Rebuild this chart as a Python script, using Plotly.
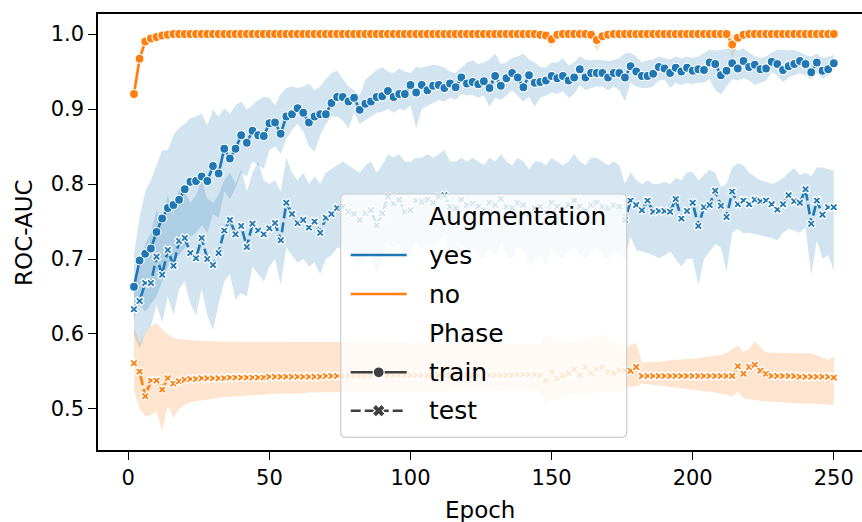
import plotly.graph_objects as go

# ---------------------------------------------------------------------------
# ROC-AUC per epoch: mean over runs with bootstrapped 95% interval
# ---------------------------------------------------------------------------
EPOCHS = list(range(2, 251, 2))

# Augmentation = yes, Phase = train
yes_train = [
    .663, .698, .707, .714, .736, .754, .768, .772, .779, .793,
    .803, .804, .810, .804, .824, .814, .847, .834, .847, .865,
    .855, .871, .865, .864, .881, .882, .867, .890, .893, .901,
    .895, .882, .890, .893, .893, .908, .916, .916, .910, .915,
    .899, .907, .910, .916, .917, .924, .916, .920, .920, .932,
    .922, .932, .925, .931, .932, .928, .934, .929, .942, .934,
    .936, .933, .937, .928, .944, .931, .941, .948, .942, .929,
    .945, .935, .936, .938, .944, .941, .944, .938, .942, .953,
    .942, .948, .948, .948, .942, .948, .948, .942, .957, .950,
    .944, .944, .947, .956, .954, .948, .955, .950, .955, .951,
    .953, .952, .962, .960, .945, .951, .961, .954, .964, .956,
    .959, .953, .954, .963, .960, .952, .957, .960, .964, .960,
    .949, .962, .951, .953, .961]
yes_train_lo = [
    .620, .640, .630, .640, .650, .670, .690, .700, .705, .715,
    .730, .735, .745, .735, .760, .755, .790, .780, .795, .815,
    .810, .830, .825, .820, .845, .850, .840, .860, .872, .880,
    .870, .850, .843, .865, .880, .890, .890, .885, .874, .895,
    .880, .885, .890, .895, .896, .900, .895, .900, .898, .905,
    .874, .900, .903, .908, .912, .910, .915, .912, .920, .918,
    .919, .915, .918, .903, .915, .912, .918, .925, .918, .910,
    .916, .903, .915, .918, .922, .920, .924, .915, .920, .932,
    .925, .928, .930, .930, .925, .930, .925, .910, .935, .930,
    .928, .928, .930, .938, .939, .928, .935, .932, .935, .933,
    .935, .935, .940, .925, .919, .930, .940, .938, .941, .938,
    .932, .935, .938, .949, .945, .936, .942, .945, .948, .945,
    .939, .948, .940, .945, .952]
yes_train_hi = [
    .705, .756, .790, .805, .825, .845, .845, .865, .875, .880,
    .888, .890, .894, .878, .899, .890, .901, .894, .905, .910,
    .899, .905, .912, .916, .915, .905, .920, .928, .930, .928,
    .930, .934, .925, .930, .940, .948, .951, .940, .930, .925,
    .918, .939, .945, .952, .956, .950, .948, .954, .950, .948,
    .956, .955, .957, .959, .958, .955, .950, .948, .955, .962,
    .965, .960, .962, .966, .974, .960, .962, .968, .970, .974,
    .966, .962, .956, .955, .962, .962, .968, .958, .962, .970,
    .966, .965, .966, .965, .964, .965, .968, .974, .975, .970,
    .962, .965, .966, .970, .968, .966, .970, .968, .970, .968,
    .970, .974, .979, .978, .979, .980, .983, .978, .981, .975,
    .970, .968, .970, .975, .979, .979, .978, .979, .975, .972,
    .970, .974, .968, .970, .972]

# Augmentation = yes, Phase = test
yes_test = [
    .633, .644, .668, .668, .703, .679, .712, .691, .724, .728,
    .708, .701, .728, .700, .692, .708, .738, .752, .733, .744,
    .716, .747, .738, .733, .741, .748, .725, .775, .760, .748,
    .752, .742, .750, .735, .755, .760, .768, .770, .763, .760,
    .752, .761, .765, .745, .761, .783, .774, .779, .763, .765,
    .778, .776, .779, .775, .783, .785, .770, .768, .779, .772,
    .774, .770, .765, .775, .772, .780, .770, .768, .775, .772,
    .760, .768, .770, .762, .775, .770, .765, .772, .778, .770,
    .765, .772, .775, .770, .768, .772, .770, .752, .778, .772,
    .765, .778, .763, .764, .764, .763, .780, .754, .764, .775,
    .744, .769, .772, .791, .771, .756, .790, .773, .778, .773,
    .779, .777, .778, .773, .766, .773, .785, .777, .775, .793,
    .747, .778, .759, .769, .769]
yes_test_lo = [
    .600, .580, .600, .610, .640, .615, .650, .625, .660, .670,
    .640, .625, .660, .625, .605, .640, .670, .680, .645, .655,
    .650, .690, .680, .670, .690, .700, .665, .715, .705, .695,
    .700, .690, .695, .680, .700, .705, .715, .715, .705, .700,
    .690, .700, .710, .680, .700, .720, .715, .720, .700, .705,
    .720, .715, .720, .715, .725, .730, .705, .700, .720, .710,
    .715, .705, .700, .715, .705, .720, .705, .700, .715, .710,
    .690, .700, .705, .690, .715, .705, .700, .710, .715, .705,
    .700, .710, .715, .705, .700, .710, .705, .700, .730, .712,
    .710, .708, .705, .701, .705, .710, .700, .690, .700, .700,
    .665, .700, .710, .720, .715, .683, .735, .740, .734, .735,
    .734, .732, .730, .728, .725, .735, .740, .738, .735, .742,
    .679, .725, .700, .705, .685]
yes_test_hi = [
    .665, .700, .720, .735, .765, .750, .785, .760, .795, .790,
    .775, .785, .805, .780, .775, .785, .805, .815, .800, .820,
    .790, .815, .830, .805, .800, .805, .790, .835, .815, .805,
    .815, .800, .810, .800, .815, .820, .825, .830, .825, .820,
    .815, .825, .830, .815, .825, .840, .835, .840, .830, .830,
    .835, .835, .840, .835, .840, .845, .830, .830, .835, .830,
    .835, .830, .825, .835, .830, .840, .830, .825, .835, .830,
    .820, .830, .830, .825, .835, .830, .825, .830, .840, .830,
    .825, .835, .835, .830, .825, .830, .825, .800, .816, .805,
    .800, .805, .800, .800, .803, .800, .808, .805, .816, .816,
    .805, .812, .819, .815, .796, .800, .822, .828, .825, .815,
    .810, .805, .803, .800, .803, .808, .815, .821, .812, .815,
    .810, .822, .822, .820, .818]

# Augmentation = no, Phase = train
no_train = [
    .920, .967, .990, .994, .996, .998, .999] + [1.000] * 65 + [
    .999, .998, .993, .999] + [1.000] * 5 + [.999, .992, .997, .999] + [1.000] * 21 + [
    .986, .995, .999] + [1.000] * 16
no_train_lo = [
    .905, .955, .985, .990, .993, .996, .998] + [1.000] * 65 + [
    .998, .996, .982, .997] + [1.000] * 5 + [.998, .976, .990, .998] + [1.000] * 21 + [
    .968, .990, .998] + [1.000] * 16
no_train_hi = [
    .934, .978, .995, .998, .999, 1.000, 1.000] + [1.000] * 65 + [
    1.000, 1.000, 1.000, 1.000] + [1.000] * 5 + [1.000, 1.000, 1.000, 1.000] + [1.000] * 21 + [
    .999, 1.000, 1.000] + [1.000] * 16

# Augmentation = no, Phase = test
no_test = [
    .561, .550, .517, .538, .538, .526, .541, .534, .537, .539,
    .540, .540, .541, .541, .541, .541, .541, .542, .542, .542,
    .542, .542, .542, .542, .543, .543, .543, .543, .543, .543,
    .543, .543, .543, .543, .544, .544, .544, .544, .544, .544,
    .544, .544, .544, .545, .545, .545, .545, .545, .545, .545,
    .545, .545, .545, .545, .545, .545, .545, .545, .545, .545,
    .545, .545, .545, .545, .545, .545, .545, .545, .546, .546,
    .546, .546, .545, .538, .550, .541, .545, .548, .553, .545,
    .556, .548, .553, .556, .550, .548, .552, .551, .551, .556,
    .544, .544, .544, .544, .544, .544, .544, .544, .544, .544,
    .544, .544, .544, .544, .544, .544, .544, .557, .547, .556,
    .559, .551, .547, .544, .544, .544, .544, .544, .543, .543,
    .543, .543, .543, .543, .542]
no_test_lo = [
    .525, .500, .490, .492, .497, .470, .505, .488, .500, .505,
    .509, .511, .512, .513, .514, .515, .516, .516, .517, .517,
    .518, .518, .519, .519, .520, .520, .520, .521, .521, .521,
    .521, .522, .522, .522, .522, .522, .523, .523, .523, .523,
    .523, .523, .523, .524, .524, .524, .524, .524, .524, .524,
    .524, .524, .525, .525, .525, .525, .525, .525, .525, .525,
    .525, .525, .525, .525, .525, .525, .525, .525, .525, .525,
    .525, .525, .524, .505, .515, .512, .515, .520, .522, .518,
    .522, .520, .522, .525, .523, .522, .524, .528, .530, .530,
    .534, .533, .532, .532, .531, .530, .529, .528, .527, .526,
    .525, .524, .523, .522, .521, .519, .516, .523, .514, .513,
    .512, .511, .510, .510, .509, .509, .508, .508, .508, .507,
    .507, .507, .506, .506, .505]
no_test_hi = [
    .610, .588, .600, .610, .615, .606, .600, .595, .593, .592,
    .592, .591, .591, .590, .590, .590, .590, .590, .590, .590,
    .590, .590, .590, .590, .590, .590, .590, .590, .590, .590,
    .590, .590, .590, .589, .589, .589, .589, .589, .589, .589,
    .589, .589, .589, .589, .589, .589, .589, .589, .588, .588,
    .588, .588, .588, .588, .588, .588, .588, .588, .588, .588,
    .588, .588, .588, .588, .588, .588, .588, .588, .588, .587,
    .587, .587, .587, .600, .595, .590, .588, .590, .592, .590,
    .595, .592, .598, .600, .595, .590, .585, .580, .585, .588,
    .562, .562, .563, .563, .564, .565, .565, .566, .567, .567,
    .568, .569, .570, .571, .572, .575, .580, .585, .576, .580,
    .590, .583, .575, .575, .575, .575, .575, .575, .575, .575,
    .574, .572, .568, .566, .570]

BLUE = "#1f77b4"
ORANGE = "#ff7f0e"
BLUE_BAND = "rgba(31,119,180,0.2)"
ORANGE_BAND = "rgba(255,127,14,0.2)"
FONT = "DejaVu Sans"

series = [
    # (mean, lower, upper, line colour, band colour, phase)
    (yes_train, yes_train_lo, yes_train_hi, BLUE, BLUE_BAND, "train"),
    (yes_test, yes_test_lo, yes_test_hi, BLUE, BLUE_BAND, "test"),
    (no_train, no_train_lo, no_train_hi, ORANGE, ORANGE_BAND, "train"),
    (no_test, no_test_lo, no_test_hi, ORANGE, ORANGE_BAND, "test"),
]

fig = go.Figure()

# confidence bands first, so every line sits on top of them
for mean, lo, hi, col, band, phase in series:
    fig.add_trace(go.Scatter(
        x=EPOCHS + EPOCHS[::-1], y=hi + lo[::-1],
        fill="toself", fillcolor=band, line=dict(width=0),
        mode="lines", hoverinfo="skip", showlegend=False))

for mean, lo, hi, col, band, phase in series:
    is_train = phase == "train"
    fig.add_trace(go.Scatter(
        x=EPOCHS, y=mean, mode="lines+markers", showlegend=False,
        line=dict(color=col, width=2.6, dash=None if is_train else "10px,4px"),
        marker=dict(symbol="circle" if is_train else "x",
                    size=9 if is_train else 7.5, color=col,
                    line=dict(color="white", width=1.2))))

# overlay axes in pixel units for the hand-built legend box
L, R, T, B = 98, 862, 14, 450
fig.update_layout(
    xaxis2=dict(overlaying="x", range=[L, R], visible=False, fixedrange=True),
    yaxis2=dict(overlaying="y", anchor="x2", range=[B, T], visible=False, fixedrange=True),
)
fig.add_trace(go.Scatter(x=[L], y=[B], xaxis="x2", yaxis="y2", mode="markers",
                         marker=dict(opacity=0), showlegend=False, hoverinfo="skip"))

bx0, bx1, by0, by1, rad = 340.7, 626.7, 194.0, 437.3, 5
box_path = (f"M {bx0+rad},{by0} L {bx1-rad},{by0} Q {bx1},{by0} {bx1},{by0+rad} "
            f"L {bx1},{by1-rad} Q {bx1},{by1} {bx1-rad},{by1} L {bx0+rad},{by1} "
            f"Q {bx0},{by1} {bx0},{by1-rad} L {bx0},{by0+rad} Q {bx0},{by0} {bx0+rad},{by0} Z")
shapes = [dict(type="path", path=box_path, xref="x2", yref="y2", layer="above",
               fillcolor="rgba(255,255,255,0.8)", line=dict(color="#cccccc", width=1.2))]

HANDLE = "#3f3f3f"
hx0, hx1 = 350.7, 406.7
hxc = (hx0 + hx1) / 2
rows = {"Augmentation": 216.0, "yes": 255.0, "no": 294.0,
        "Phase": 333.3, "train": 372.3, "test": 410.7}
shapes.append(dict(type="line", xref="x2", yref="y2", layer="above",
                   x0=hx0, x1=hx1, y0=rows["yes"], y1=rows["yes"],
                   line=dict(color=BLUE, width=2.6)))
shapes.append(dict(type="line", xref="x2", yref="y2", layer="above",
                   x0=hx0, x1=hx1, y0=rows["no"], y1=rows["no"],
                   line=dict(color=ORANGE, width=2.6)))
shapes.append(dict(type="line", xref="x2", yref="y2", layer="above",
                   x0=hx0, x1=hx1, y0=rows["train"], y1=rows["train"],
                   line=dict(color=HANDLE, width=2.6)))
shapes.append(dict(type="circle", xref="x2", yref="y2", layer="above",
                   x0=hxc - 5.5, x1=hxc + 5.5, y0=rows["train"] - 5.5, y1=rows["train"] + 5.5,
                   fillcolor=HANDLE, line=dict(color="white", width=1.2)))
shapes.append(dict(type="line", xref="x2", yref="y2", layer="above",
                   x0=hx0, x1=hx1, y0=rows["test"], y1=rows["test"],
                   line=dict(color=HANDLE, width=2.6, dash="10px,4px")))
d = 4.2
for sx in (-1, 1):
    shapes.append(dict(type="line", xref="x2", yref="y2", layer="above",
                       x0=hxc - d, x1=hxc + d, y0=rows["test"] - sx * d, y1=rows["test"] + sx * d,
                       line=dict(color="white", width=6.5)))
for sx in (-1, 1):
    shapes.append(dict(type="line", xref="x2", yref="y2", layer="above",
                       x0=hxc - d, x1=hxc + d, y0=rows["test"] - sx * d, y1=rows["test"] + sx * d,
                       line=dict(color=HANDLE, width=4)))

annotations = []
for label, yy in rows.items():
    annotations.append(dict(text=label, xref="x2", yref="y2", x=427.0, y=yy,
                            xanchor="left", yanchor="middle", showarrow=False,
                            font=dict(family=FONT, size=25, color="#000000")))

# axis titles
annotations.append(dict(text="Epoch", xref="paper", yref="paper", x=0.5, y=-0.138,
                        xanchor="center", yanchor="middle", showarrow=False,
                        font=dict(family=FONT, size=23, color="#000000")))
annotations.append(dict(text="ROC-AUC", xref="paper", yref="paper", x=-0.097, y=0.5,
                        xanchor="center", yanchor="middle", textangle=-90, showarrow=False,
                        font=dict(family=FONT, size=23, color="#000000")))

fig.update_layout(
    width=862, height=522,
    margin=dict(l=L, r=862 - R, t=T, b=522 - B),
    paper_bgcolor="white", plot_bgcolor="white",
    showlegend=False,
    shapes=shapes, annotations=annotations,
    xaxis=dict(range=[-10.74, 260.0], tickvals=[0, 50, 100, 150, 200, 250],
               showgrid=False, zeroline=False, showline=True, linecolor="#000000",
               linewidth=1.5, mirror=True, ticks="outside", ticklen=8, tickwidth=1.4,
               tickcolor="#000000",
               tickfont=dict(family=FONT, size=21, color="#000000")),
    yaxis=dict(range=[0.4453, 1.0267], tickvals=[0.5, 0.6, 0.7, 0.8, 0.9, 1.0],
               tickformat=".1f",
               showgrid=False, zeroline=False, showline=True, linecolor="#000000",
               linewidth=1.5, ticks="outside", ticklen=8, tickwidth=1.4,
               tickcolor="#000000",
               tickfont=dict(family=FONT, size=21, color="#000000")),
)

fig.write_html("out.html")
